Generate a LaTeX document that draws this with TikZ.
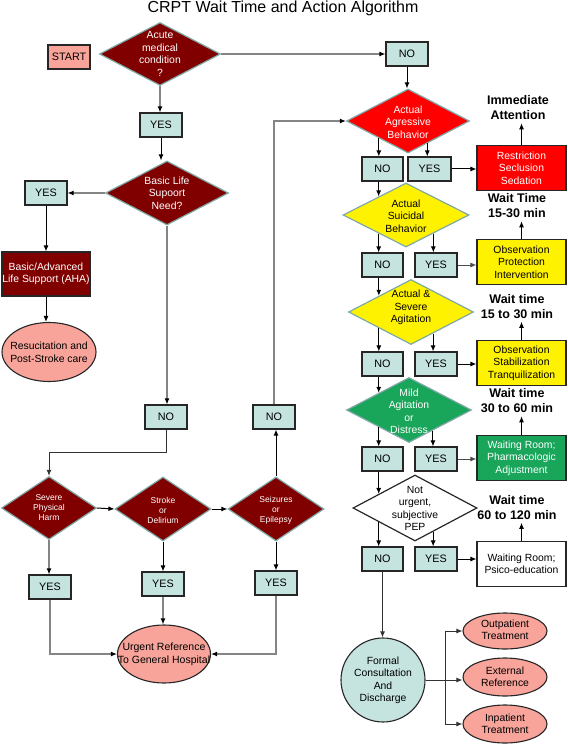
\documentclass[tikz,border=0pt]{standalone}
\usepackage{fontspec}
\setmainfont{Liberation Sans}
\usetikzlibrary{shapes.geometric,arrows.meta,calc}
\definecolor{tealc}{HTML}{C5E3DF}
\definecolor{salmon}{HTML}{F8A49A}
\definecolor{dred}{HTML}{800000}
\definecolor{gr}{HTML}{19A55A}
\definecolor{diab}{HTML}{7FA8A8}
\definecolor{lgray}{HTML}{858585}
\begin{document}
\begin{tikzpicture}[x=1pt,y=-1pt,
  yn/.style={draw=black!85, line width=1.1pt, fill=tealc, minimum width=42pt, minimum height=24pt, inner sep=0pt, font=\fontsize{10.8}{12}\selectfont},
  dia/.style={diamond, draw=diab, line width=1.2pt, inner sep=0pt},
  txt/.style={align=center, inner sep=0pt, font=\fontsize{10.4}{12.5}\selectfont},
  stxt/.style={align=center, inner sep=0pt, text=white, font=\fontsize{8.5}{10}\selectfont},
  rbox/.style={draw=black!85, line width=1.1pt, minimum width=89pt, minimum height=45pt, inner sep=0pt, align=center, font=\fontsize{10.4}{12.5}\selectfont},
  wt/.style={align=center, inner sep=3pt, font=\bfseries\fontsize{12.5}{15}\selectfont},
  ell/.style={ellipse, draw=black!85, line width=1.1pt, fill=salmon, inner sep=0pt},
  arr/.style={draw=black, line width=1pt, -{Latex[length=6pt,width=5pt]}},
  garr/.style={draw=lgray, line width=1.8pt, -{Latex[length=6pt,width=5pt,color=black]}}]
\useasboundingbox (0,0) rectangle (567,746);

% title
\node[inner sep=0pt, font=\fontsize{16}{18}\selectfont] (title) at (283,8) {CRPT Wait Time and Action Algorithm};

% ---------- left / top part ----------
\node[yn, fill=salmon] (start) at (69,57) {START};
\node[dia, fill=dred, minimum width=121pt, minimum height=63pt] (acute) at (160,54) {};
\node[txt, text=white] (acuteT) at (acute) {Acute\\medical\\condition\\?};
\node[yn] (NOt) at (407,54) {NO};
\node[yn] (YESt) at (161,125) {YES};
\node[dia, fill=dred, minimum width=123pt, minimum height=64pt] (basic) at (167,193) {};
\node[txt, text=white] (basicT) at (basic) {Basic Life\\Supoort\\Need?};
\node[yn] (YESl) at (46,193) {YES};
\node[rbox, fill=dred, text=white, minimum width=88pt, minimum height=44pt] (bls) at (46,274) {Basic/Advanced\\Life Support (AHA)};
\node[ell, minimum width=94pt, minimum height=59pt] (resus) at (49,352) {};
\node[txt] (resusT) at (49,352.5) {Resucitation and\\Post-Stroke care};
\node[yn] (NOm) at (166,417) {NO};
\node[yn] (NOz) at (274,417) {NO};

\node[dia, fill=dred, minimum width=95pt, minimum height=63pt] (sph) at (49,508) {};
\node[stxt] (sphT) at (49,508) {Severe\\Physical\\Harm};
\node[dia, fill=dred, minimum width=96pt, minimum height=64pt] (stk) at (163,509) {};
\node[stxt] (stkT) at (163,510) {Stroke\\or\\Delirium};
\node[dia, fill=dred, minimum width=96pt, minimum height=64pt] (szr) at (276,509) {};
\node[stxt] (szrT) at (276,510) {Seizures\\or\\Epilepsy};
\node[yn] (YS) at (50,587) {YES};
\node[yn] (YK) at (163,584) {YES};
\node[yn] (YZ) at (276,583) {YES};
\node[ell, minimum width=93pt, minimum height=58pt] (urg) at (164,654) {};
\node[txt, font=\fontsize{10.5}{12.8}\selectfont] (urgT) at (164,654.5) {Urgent Reference\\To General Hospital};

% ---------- right column ----------
\node[dia, fill=red, minimum width=123pt, minimum height=64pt] (agg) at (408,121) {};
\node[txt, text=white] (aggT) at (408,122) {Actual\\Agressive\\Behavior};
\node[dia, fill=yellow, minimum width=126pt, minimum height=64pt] (sui) at (406,215) {};
\node[txt] (suiT) at (406,216) {Actual\\Suicidal\\Behavior};
\node[dia, fill=yellow, minimum width=125pt, minimum height=65pt] (sev) at (411,312) {};
\node[txt] (sevT) at (411,307.5) {Actual \&\\Severe\\Agitation};
\node[dia, fill=gr, minimum width=125pt, minimum height=65pt] (mild) at (409,410) {};
\node[txt, text=white] (mildT) at (409,411.5) {Mild\\Agitation\\or\\Distress};
\node[dia, draw=black!85, fill=white, minimum width=124pt, minimum height=66pt] (nu) at (415,508) {};
\node[txt] (nuT) at (415,508.5) {Not\\urgent,\\subjective\\PEP};

\node[yn, minimum width=41pt] (N1) at (382.5,169) {NO};
\node[yn, minimum width=43pt] (Y1) at (429.5,169) {YES};
\node[yn, minimum width=41pt] (N2) at (382.5,265) {NO};
\node[yn] (Y2) at (436,265) {YES};
\node[yn, minimum width=41pt] (N3) at (382.5,364) {NO};
\node[yn] (Y3) at (436,364) {YES};
\node[yn, minimum width=41pt] (N4) at (382.5,459) {NO};
\node[yn] (Y4) at (436,459) {YES};
\node[yn, minimum width=41pt] (N5) at (382.5,559) {NO};
\node[yn] (Y5) at (436,559) {YES};

\node[rbox, fill=red, text=white] (R1) at (521.5,168) {Restriction\\Seclusion\\Sedation};
\node[rbox, fill=yellow] (R2) at (521.5,262) {Observation\\Protection\\Intervention};
\node[rbox, fill=yellow] (R3) at (521.5,363) {Observation\\Stabilization\\Tranquilization};
\node[rbox, fill=gr, text=white] (R4) at (521.5,458) {Waiting Room;\\Pharmacologic\\Adjustment};
\node[rbox, fill=white] (R5) at (521.5,564) {Waiting Room;\\Psico-education};

\node[wt] (W1) at (518,108) {Immediate\\Attention};
\node[wt] (W2) at (517,206) {Wait Time\\15-30 min};
\node[wt] (W3) at (517,306.5) {Wait time\\15 to 30 min};
\node[wt] (W4) at (517,401) {Wait time\\30 to 60 min};
\node[wt] (W5) at (517,507.5) {Wait time\\60 to 120 min};

\node[circle, draw=black!85, line width=1.1pt, fill=tealc, minimum size=84pt, inner sep=0pt] (formal) at (383,680) {};
\node[txt] (formalT) at (383,680.5) {Formal\\Consultation\\And\\Discharge};
\node[ell, minimum width=84pt, minimum height=36pt] (out) at (505,631) {};
\node[txt] (outT) at (505,630) {Outpatient\\Treatment};
\node[ell, minimum width=84pt, minimum height=38pt] (ext) at (505,677) {};
\node[txt] (extT) at (505,677) {External\\Reference};
\node[ell, minimum width=84pt, minimum height=38pt] (inp) at (505,724) {};
\node[txt] (inpT) at (505,724) {Inpatient\\Treatment};

% ---------- connectors: left ----------
\draw[garr] (acute.east) -- (NOt.west);
\draw[garr] (acute.south) -- (acute.south |- YESt.north);
\draw[arr] (YESt.south) -- (YESt.south |- basic.north);
\draw[garr] (basic.west) -- (YESl.east);
\draw[arr] (YESl.south) -- (bls.north);
\draw[arr] (bls.south) -- (bls.south |- resus.north);
\draw[garr] (basic.south) -- (basic.south |- NOm.north);
\coordinate (jn) at ($(NOm.south)!0.5!(NOm.south |- sph.north)$);
\draw[arr, draw=black!80] (NOm.south) -- (jn) -| (sph.north);
\draw[arr] (sph.east) -- (stk.west);
\draw[arr] (stk.east) -- (szr.west);
\draw[garr] (sph.south) -- (sph.south |- YS.north);
\draw[arr] (stk.south) -- (YK.north);
\draw[arr] (szr.south) -- (YZ.north);
\draw[garr] (YS.south) |- (urg.west);
\draw[garr] (YK.south) -- (YK.south |- urg.north);
\draw[garr] (YZ.south) |- (urg.east);
\draw[arr] (szr.north) -- (szr.north |- NOz.south);
\draw[garr] (NOz.north) |- (agg.west);

% ---------- connectors: right column ----------
\draw[arr] (NOt.south) -- (NOt.south |- agg.north);

\coordinate (a1) at ($(agg.south)!0.47!(agg.west)$);
\coordinate (a2) at ($(agg.south)!0.31!(agg.east)$);
\draw[arr] (a1) -- (a1 |- N1.north);
\draw[arr] (a2) -- (a2 |- Y1.north);
\coordinate (s0) at ($(sui.north)!0.43!(sui.west)$);
\draw[arr] (s0 |- N1.south) -- (s0);

\coordinate (s1) at ($(sui.south)!0.43!(sui.west)$);
\coordinate (s2) at ($(sui.south)!0.43!(sui.east)$);
\draw[arr] (s1) -- (s1 |- N2.north);
\draw[arr] (s2) -- (s2 |- Y2.north);
\coordinate (v0) at ($(sev.north)!0.51!(sev.west)$);
\draw[arr] (v0 |- N2.south) -- (v0);

\coordinate (v1) at ($(sev.south)!0.51!(sev.west)$);
\coordinate (v2) at ($(sev.south)!0.35!(sev.east)$);
\draw[arr] (v1) -- (v1 |- N3.north);
\draw[arr] (v2) -- (v2 |- Y3.north);
\coordinate (m0) at ($(mild.north)!0.48!(mild.west)$);
\draw[arr] (m0 |- N3.south) -- (m0);

\coordinate (m1) at ($(mild.south)!0.48!(mild.west)$);
\coordinate (m2) at ($(mild.south)!0.38!(mild.east)$);
\draw[arr] (m1) -- (m1 |- N4.north);
\draw[arr] (m2) -- (m2 |- Y4.north);
\coordinate (u0) at ($(nu.north)!0.58!(nu.west)$);
\draw[arr] (u0 |- N4.south) -- (u0);

\coordinate (u1) at ($(nu.south)!0.58!(nu.west)$);
\coordinate (u2) at ($(nu.south)!0.29!(nu.east)$);
\draw[arr] (u1) -- (u1 |- N5.north);
\draw[arr] (u2) -- (u2 |- Y5.north);

\draw[arr] (Y1.east) -- (Y1.east -| R1.west);
\draw[arr, draw=black!70] (Y2.east) -- (Y2.east -| R2.west);
\draw[arr] (Y3.east) -- (Y3.east -| R3.west);
\draw[arr, draw=black!70] (Y4.east) -- (Y4.east -| R4.west);
\draw[arr] (Y5.east) -- (Y5.east -| R5.west);

\draw[arr] (R1.north) -- (R1.north |- W1.south);
\draw[arr] (R2.north) -- (R2.north |- W2.south);
\draw[arr] (R3.north) -- (R3.north |- W3.south);
\draw[arr] (R4.north) -- (R4.north |- W4.south);
\draw[arr] (R5.north) -- (R5.north |- W5.south);

\draw[arr, draw=black!80] (N5.south) -- (N5.south |- formal.north);
\coordinate (br) at ($(formal.east)+(20,0)$);
\draw[arr, draw=black!80] (formal.east) -- (formal.east -| ext.west);
\draw[arr, draw=black!80] (br) |- (out.west);
\draw[arr, draw=black!80] (br) |- (inp.west);
\end{tikzpicture}
\end{document}
